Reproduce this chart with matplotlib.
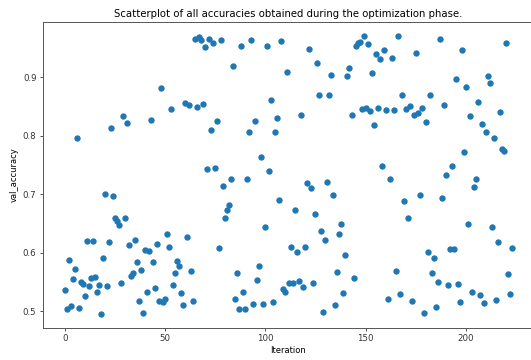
import numpy as np
import matplotlib
matplotlib.use("Agg")
import matplotlib.pyplot as plt

title = "Scatterplot of all accuracies obtained during the optimization phase."
x_label = "Iteration"
y_label = "val_accuracy"
x_ticks = [0, 50, 100, 150, 200]
y_ticks = [0.5, 0.6, 0.7, 0.8, 0.9]

val_accuracy = [
    0.536, 0.505, 0.588, 0.510, 0.555, 0.572, 0.796, 0.506, 0.550, 0.547,
    0.526, 0.620, 0.543, 0.558, 0.621, 0.559, 0.534, 0.545, 0.496, 0.591,
    0.700, 0.543, 0.619, 0.814, 0.697, 0.660, 0.654, 0.648, 0.549, 0.834,
    0.660, 0.822, 0.614, 0.560, 0.565, 0.622, 0.585, 0.518, 0.571, 0.498,
    0.605, 0.534, 0.603, 0.827, 0.584, 0.540, 0.615, 0.518, 0.882, 0.516,
    0.522, 0.633, 0.610, 0.845, 0.546, 0.566, 0.587, 0.577, 0.531, 0.511,
    0.856, 0.628, 0.853, 0.569, 0.518, 0.965, 0.849, 0.969, 0.964, 0.855,
    0.952, 0.744, 0.966, 0.810, 0.958, 0.745, 0.826, 0.608, 0.963, 0.714,
    0.659, 0.673, 0.682, 0.726, 0.919, 0.521, 0.565, 0.505, 0.953, 0.534,
    0.505, 0.727, 0.806, 0.964, 0.513, 0.826, 0.554, 0.577, 0.764, 0.513,
    0.645, 0.953, 0.740, 0.861, 0.516, 0.807, 0.831, 0.690, 0.962, 0.538,
    0.533, 0.908, 0.549, 0.610, 0.548, 0.673, 0.601, 0.552, 0.836, 0.541,
    0.610, 0.719, 0.948, 0.710, 0.548, 0.666, 0.924, 0.869, 0.637, 0.499,
    0.622, 0.721, 0.870, 0.903, 0.699, 0.511, 0.568, 0.633, 0.650, 0.531,
    0.597, 0.902, 0.916, 0.835, 0.557, 0.953, 0.958, 0.960, 0.845, 0.970,
    0.848, 0.957, 0.843, 0.907, 0.818, 0.939, 0.847, 0.931, 0.749, 0.947,
    0.844, 0.522, 0.727, 0.932, 0.844, 0.569, 0.970, 0.530, 0.869, 0.689,
    0.846, 0.659, 0.851, 0.518, 0.835, 0.942, 0.838, 0.699, 0.848, 0.498,
    0.823, 0.601, 0.869, 0.566, 0.591, 0.507, 0.551, 0.965, 0.694, 0.853,
    0.733, 0.545, 0.606, 0.748, 0.607, 0.897, 0.547, 0.517, 0.947, 0.773,
    0.883, 0.650, 0.833, 0.534, 0.712, 0.727, 0.857, 0.528, 0.820, 0.514,
    0.806, 0.902, 0.890, 0.644, 0.797, 0.520, 0.618, 0.840, 0.778, 0.774,
    0.958, 0.564, 0.529, 0.608,
]
iterations = np.arange(len(val_accuracy))

W, H = 531, 360
fig = plt.figure(figsize=(W / 100, H / 100), dpi=100)
left, right, top, bottom = 42.7, 534.1, 22.3, 327.7
ax = fig.add_axes([left / W, (H - bottom) / H, (right - left) / W, (bottom - top) / H])

ax.scatter(iterations, val_accuracy, s=21, color="#1f77b4", linewidths=0)

ax.set_xticks(x_ticks)
ax.set_yticks(y_ticks)
ax.tick_params(labelsize=6.2, length=2.5, width=0.6, pad=2, colors="#333333")
for sp in ax.spines.values():
    sp.set_linewidth(0.7)
    sp.set_color("#555555")
ax.set_title(title, fontsize=7.3, pad=4)
ax.set_xlabel(x_label, fontsize=6.0, labelpad=2)
ax.set_ylabel(y_label, fontsize=6.0, labelpad=3)

fig.savefig("out.png", dpi=100)
